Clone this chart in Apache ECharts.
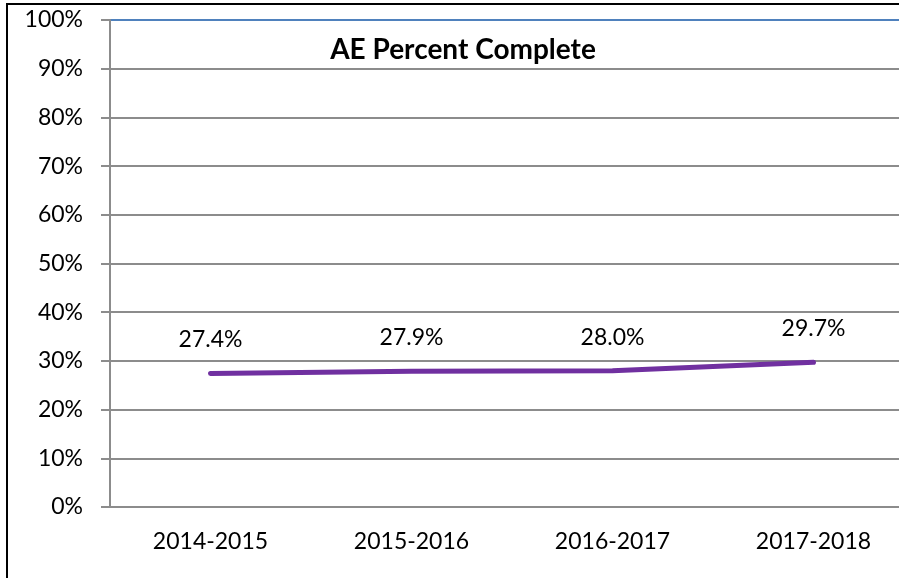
<!DOCTYPE html>
<html>
<head>
<meta charset="utf-8">
<script src="https://cdn.jsdelivr.net/npm/echarts@6/dist/echarts.min.js"></script>
<style>
  html, body { margin: 0; padding: 0; background: #fff; }
  #chart { width: 899px; height: 578px; }
</style>
</head>
<body>
<div id="chart"></div>
<script>
const categories = ['2014-2015', '2015-2016', '2016-2017', '2017-2018'];
const percentComplete = [27.4, 27.9, 28.0, 29.7];
const yTicks = [0, 10, 20, 30, 40, 50, 60, 70, 80, 90, 100];

const FONT = 'Lato';
const GRID_GREY = '#8c8c8c';

// top gridline (100%) is blue, the rest grey
const splitColors = yTicks.map((t) => (t === 100 ? '#4f81bd' : GRID_GREY));

const chart = echarts.init(document.getElementById('chart'));

const option = {
  backgroundColor: '#fff',
  animation: false,
  title: {
    text: 'AE Percent Complete',
    left: 458,
    top: 31,
    textAlign: 'center',
    textStyle: { fontFamily: FONT, fontWeight: 'bold', fontSize: 28, color: '#000' },
  },
  graphic: [{
    type: 'rect',
    shape: { x: 7, y: 4, width: 1000, height: 1000 },
    style: { fill: 'none', stroke: '#000', lineWidth: 2 },
    z: 100,
  }],
  grid: {
    left: 110,
    width: 804,
    top: 20,
    bottom: 71,
    containLabel: false,
    outerBoundsMode: 'none',
  },
  xAxis: {
    type: 'category',
    data: categories,
    boundaryGap: true,
    axisLine: { show: true, lineStyle: { color: GRID_GREY, width: 2 } },
    axisTick: { show: false },
    axisLabel: { fontFamily: FONT, fontSize: 23, color: '#000', margin: 23 },
    splitLine: { show: false },
  },
  yAxis: {
    type: 'value',
    min: 0,
    max: 100,
    interval: 10,
    axisLine: { show: true, lineStyle: { color: GRID_GREY, width: 2 } },
    axisTick: { show: true, length: 9, lineStyle: { color: GRID_GREY, width: 2 } },
    axisLabel: {
      fontFamily: FONT,
      fontSize: 23,
      color: '#000',
      margin: 27,
      formatter: (v) => v + '%',
    },
    splitLine: { show: true, lineStyle: { color: splitColors, width: 2 } },
  },
  series: [{
    type: 'line',
    data: percentComplete,
    showSymbol: true,
    symbol: 'circle',
    symbolSize: 0,
    itemStyle: { color: 'rgba(0,0,0,0)' },
    lineStyle: { color: '#7030a0', width: 5, cap: 'round' },
    label: {
      show: true,
      position: 'top',
      distance: 22,
      fontFamily: FONT,
      fontSize: 23,
      color: '#000',
      formatter: (p) => p.value.toFixed(1) + '%',
    },
  }],
};

chart.setOption(option);
</script>
</body>
</html>
